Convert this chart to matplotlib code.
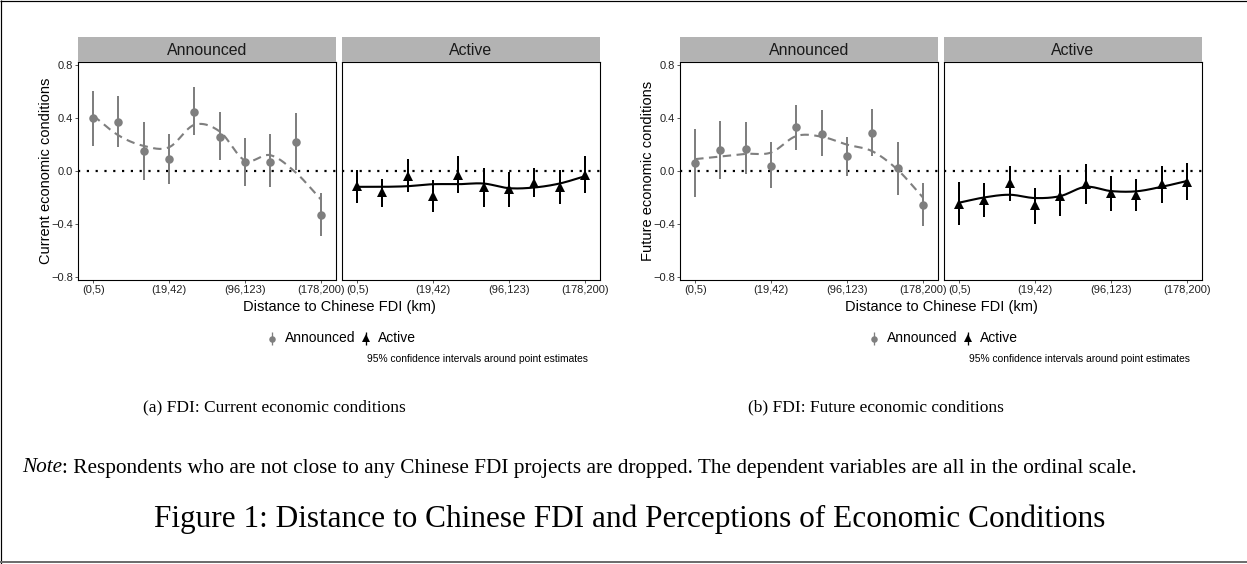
import numpy as np
import matplotlib
matplotlib.use("Agg")
import matplotlib.pyplot as plt

# ---------------------------------------------------------------- data
n_bins = 10
bin_pos = list(range(1, n_bins + 1))
tick_pos = [1, 4, 7, 10]
tick_labels = ["(0,5)", "(19,42)", "(96,123)", "(178,200)"]
y_ticks = [-0.8, -0.4, 0.0, 0.4, 0.8]
y_tick_labels = ["\u22120.8", "\u22120.4", "0.0", "0.4", "0.8"]

# (a) current economic conditions
cur_ann_est = [0.40, 0.37, 0.15, 0.09, 0.45, 0.26, 0.07, 0.07, 0.22, -0.33]
cur_ann_lo = [0.19, 0.18, -0.07, -0.10, 0.27, 0.08, -0.11, -0.12, 0.01, -0.49]
cur_ann_hi = [0.61, 0.57, 0.37, 0.28, 0.64, 0.45, 0.25, 0.28, 0.44, -0.17]
cur_ann_fit = [0.42, 0.27, 0.19, 0.18, 0.35, 0.30, 0.08, 0.12, -0.01, -0.215]

cur_act_est = [-0.11, -0.16, -0.04, -0.19, -0.03, -0.12, -0.14, -0.09, -0.12, -0.03]
cur_act_lo = [-0.24, -0.27, -0.16, -0.31, -0.17, -0.27, -0.27, -0.20, -0.25, -0.17]
cur_act_hi = [0.01, -0.06, 0.09, -0.07, 0.11, 0.02, -0.01, 0.02, 0.01, 0.11]
cur_act_fit = [-0.12, -0.12, -0.115, -0.10, -0.10, -0.095, -0.13, -0.125, -0.095, -0.04]

# (b) future economic conditions
fut_ann_est = [0.06, 0.16, 0.17, 0.04, 0.33, 0.28, 0.11, 0.29, 0.02, -0.26]
fut_ann_lo = [-0.20, -0.06, -0.02, -0.13, 0.16, 0.11, -0.04, 0.11, -0.18, -0.42]
fut_ann_hi = [0.32, 0.38, 0.37, 0.22, 0.50, 0.46, 0.26, 0.47, 0.22, -0.09]
fut_ann_fit = [0.09, 0.11, 0.13, 0.14, 0.265, 0.26, 0.20, 0.15, 0.01, -0.20]

fut_act_est = [-0.25, -0.22, -0.09, -0.26, -0.19, -0.10, -0.17, -0.18, -0.10, -0.08]
fut_act_lo = [-0.41, -0.35, -0.23, -0.40, -0.34, -0.25, -0.30, -0.30, -0.24, -0.22]
fut_act_hi = [-0.08, -0.09, 0.04, -0.13, -0.03, 0.05, -0.04, -0.06, 0.04, 0.06]
fut_act_fit = [-0.24, -0.20, -0.18, -0.205, -0.19, -0.12, -0.152, -0.154, -0.12, -0.076]

# ---------------------------------------------------------------- styling
W, H, DPI = 1247, 564, 100
SANS = "Liberation Sans"
SERIF = "Liberation Serif"
GREY = "#7F7F7F"
STRIP = "#B3B3B3"
PX = 72.0 / DPI  # points per pixel

plt.rcParams["font.family"] = [SANS, "DejaVu Sans"]


def smooth_curve(x, y, n=24):
    """Cubic Hermite curve through the fitted values, for a smooth line."""
    x = np.asarray(x, float)
    y = np.asarray(y, float)
    m = np.gradient(y, x)
    xs, ys = [], []
    for i in range(len(x) - 1):
        t = np.linspace(0, 1, n, endpoint=False)
        h = x[i + 1] - x[i]
        h00 = 2 * t**3 - 3 * t**2 + 1
        h10 = t**3 - 2 * t**2 + t
        h01 = -2 * t**3 + 3 * t**2
        h11 = t**3 - t**2
        xs.append(x[i] + t * h)
        ys.append(h00 * y[i] + h10 * h * m[i] + h01 * y[i + 1] + h11 * h * m[i + 1])
    xs.append([x[-1]])
    ys.append([y[-1]])
    return np.concatenate(xs), np.concatenate(ys)


def rect(left, top, right, bottom):
    return [left / W, 1 - bottom / H, (right - left) / W, (bottom - top) / H]


fig = plt.figure(figsize=(W / DPI, H / DPI), dpi=DPI)

# full-figure layer in pixel units for frame, legends and captions
ov = fig.add_axes([0, 0, 1, 1], zorder=-1)
ov.set_xlim(0, W)
ov.set_ylim(H, 0)
ov.axis("off")
ov.plot([1.2, 1.2], [0, H], color="black", lw=1.2 * PX, solid_capstyle="butt")
ov.plot([0, W], [1.0, 1.0], color="black", lw=1.2 * PX, solid_capstyle="butt")
ov.plot([0, W], [562.3, 562.3], color="#6E6E6E", lw=2.0 * PX, solid_capstyle="butt")


def draw_panel(ax, est, lo, hi, fit, announced, left_axis, ylabel=None):
    col = GREY if announced else "black"
    ax.axhline(0, color="black", lw=2.2 * PX, ls=(0, (1, 3)), zorder=1)
    ax.vlines(bin_pos, lo, hi, color=col, lw=2.0 * PX, zorder=2)
    sx, sy = smooth_curve(bin_pos, fit)
    if announced:
        ax.plot(sx, sy, color=col, lw=2.1 * PX, ls=(0, (4, 2.6)), zorder=3)
        ax.plot(bin_pos, est, "o", color=col, ms=8.5 * PX, mew=0, zorder=4)
    else:
        ax.plot(sx, sy, color=col, lw=2.1 * PX, zorder=3)
        ax.plot(bin_pos, est, "^", color=col, ms=9.5 * PX, mew=0, zorder=4)
    ax.set_xlim(0.4, 10.6)
    ax.set_ylim(-0.826, 0.826)
    ax.set_xticks(tick_pos)
    ax.set_xticklabels(tick_labels, fontsize=8, color="#222222")
    ax.tick_params(axis="x", length=3 * PX, width=0.8 * PX, pad=1.2, color="#333333")
    if left_axis:
        ax.set_yticks(y_ticks)
        ax.set_yticklabels(y_tick_labels, fontsize=8, color="#222222")
        ax.tick_params(axis="y", length=3 * PX, width=0.8 * PX, pad=1.2, color="#333333")
        ax.set_ylabel(ylabel, fontsize=10.5)
        ax.yaxis.set_label_coords(-0.097, 0.5)
    else:
        ax.set_yticks([])
    for s in ax.spines.values():
        s.set_color("black")
        s.set_linewidth(1.1 * PX)


def draw_strip(left, right, label):
    sa = fig.add_axes(rect(left, 37, right, 62))
    sa.set_facecolor(STRIP)
    sa.set_xticks([])
    sa.set_yticks([])
    for s in sa.spines.values():
        s.set_visible(False)
    sa.text(0.5, 0.47, label, transform=sa.transAxes, ha="center", va="center",
            fontsize=11.4, color="#1A1A1A")


groups = [
    (78, "Current economic conditions", "(a) FDI: Current economic conditions",
     (cur_ann_est, cur_ann_lo, cur_ann_hi, cur_ann_fit),
     (cur_act_est, cur_act_lo, cur_act_hi, cur_act_fit)),
    (680, "Future economic conditions", "(b) FDI: Future economic conditions",
     (fut_ann_est, fut_ann_lo, fut_ann_hi, fut_ann_fit),
     (fut_act_est, fut_act_lo, fut_act_hi, fut_act_fit)),
]

for x0, ylabel, caption, ann, act in groups:
    ax1 = fig.add_axes(rect(x0, 62, x0 + 258, 280))
    draw_panel(ax1, *ann, announced=True, left_axis=True, ylabel=ylabel)
    draw_strip(x0, x0 + 258, "Announced")
    ax2 = fig.add_axes(rect(x0 + 264, 62, x0 + 522, 280))
    draw_panel(ax2, *act, announced=False, left_axis=False)
    draw_strip(x0 + 264, x0 + 522, "Active")

    ov.text(x0 + 261, 307, "Distance to Chinese FDI (km)", ha="center", va="center",
            fontsize=10.5)

    # legend
    kx = x0 + 194
    ov.plot([kx, kx], [331.5, 345], color=GREY, lw=1.3 * PX, solid_capstyle="butt")
    ov.plot([kx], [338.5], "o", color=GREY, ms=6.5 * PX, mew=0)
    ov.text(x0 + 207, 338.5, "Announced", ha="left", va="center", fontsize=10)
    tx = x0 + 288
    ov.plot([tx, tx], [331.5, 345], color="black", lw=1.3 * PX, solid_capstyle="butt")
    ov.plot([tx], [337.5], "^", color="black", ms=8 * PX, mew=0)
    ov.text(x0 + 300, 338.5, "Active", ha="left", va="center", fontsize=10)

    ov.text(x0 + 510, 358.5, "95% confidence intervals around point estimates",
            ha="right", va="center", fontsize=7.4)

    ov.text(x0 + 196, 407, caption, ha="center", va="center", fontsize=12.5,
            family=SERIF)

# note line with italic lead word
t_note = ov.text(22, 468, "Note", ha="left", va="center", fontsize=15.3,
                 family=SERIF, style="italic")
fig.canvas.draw()
bb = t_note.get_window_extent()
note_x = ov.transData.inverted().transform((bb.x1, 0))[0]
ov.text(note_x, 468, ": Respondents who are not close to any Chinese FDI projects are "
        "dropped. The dependent variables are all in the ordinal scale.",
        ha="left", va="center", fontsize=15.3, family=SERIF)

ov.text(630, 519, "Figure 1: Distance to Chinese FDI and Perceptions of Economic Conditions",
        ha="center", va="center", fontsize=22.5, family=SERIF)

fig.savefig("out.png", dpi=DPI)
